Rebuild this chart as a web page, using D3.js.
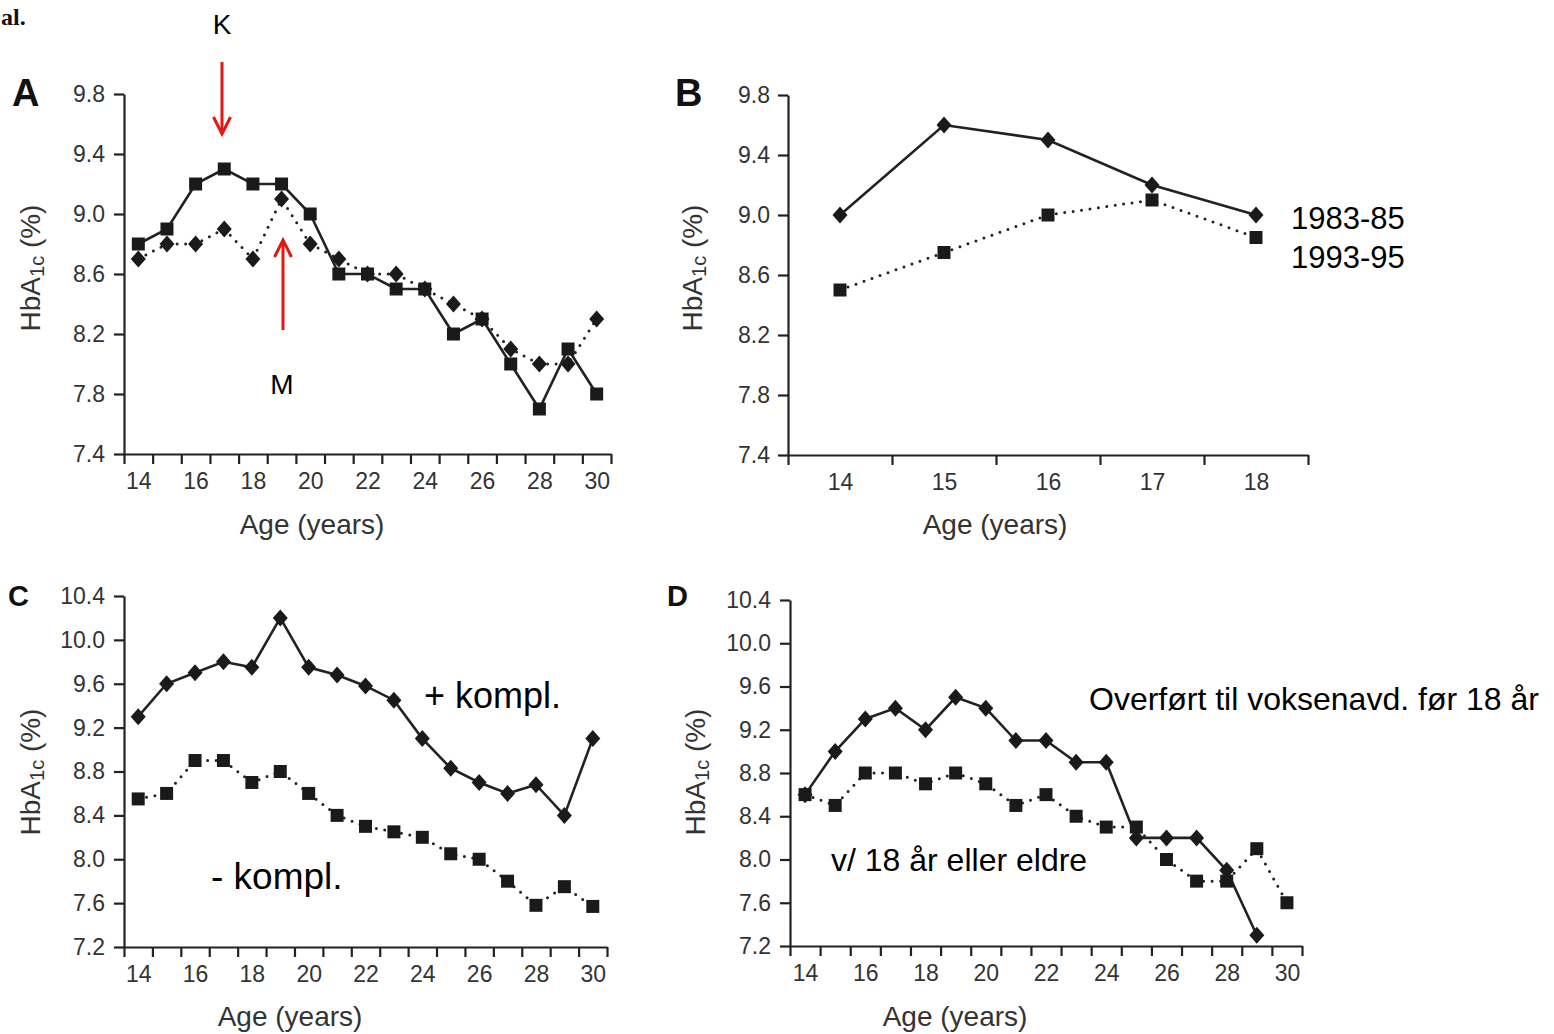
<!DOCTYPE html>
<html><head><meta charset="utf-8">
<script src="https://cdn.jsdelivr.net/npm/d3@7"></script>
<style>
body{margin:0;background:#fff;}
svg{display:block;font-family:Arial,"Liberation Sans",Helvetica,sans-serif;}
</style>
</head><body><svg id="c" width="1554" height="1034"></svg>
<script>
// ---------- DATA ----------
const agesLong = [14,15,16,17,18,19,20,21,22,23,24,25,26,27,28,29,30];
const agesShort = [14,15,16,17,18];
const agesDdiamond = [14,15,16,17,18,19,20,21,22,23,24,25,26,27,28,29];

const aSquares  = [8.8,8.9,9.2,9.3,9.2,9.2,9.0,8.6,8.6,8.5,8.5,8.2,8.3,8.0,7.7,8.1,7.8];
const aDiamonds = [8.7,8.8,8.8,8.9,8.7,9.1,8.8,8.7,8.6,8.6,8.5,8.4,8.3,8.1,8.0,8.0,8.3];

const bDiamonds = [9.0,9.6,9.5,9.2,9.0];
const bSquares  = [8.5,8.75,9.0,9.1,8.85];

const cDiamonds = [9.3,9.6,9.7,9.8,9.75,10.2,9.75,9.68,9.58,9.45,9.1,8.83,8.7,8.6,8.68,8.4,9.1];
const cSquares  = [8.55,8.6,8.9,8.9,8.7,8.8,8.6,8.4,8.3,8.25,8.2,8.05,8.0,7.8,7.58,7.75,7.57];

const dDiamonds = [8.6,9.0,9.3,9.4,9.2,9.5,9.4,9.1,9.1,8.9,8.9,8.2,8.2,8.2,7.9,7.3];
const dSquares  = [8.6,8.5,8.8,8.8,8.7,8.8,8.7,8.5,8.6,8.4,8.3,8.3,8.0,7.8,7.8,8.1,7.6];

const yTicksAB = [7.4,7.8,8.2,8.6,9.0,9.4,9.8];
const yTicksCD = [7.2,7.6,8.0,8.4,8.8,9.2,9.6,10.0,10.4];
const xLabelsLong = [14,16,18,20,22,24,26,28,30];
const xLabelsShort = [14,15,16,17,18];

// ---------- DRAW ----------
const svg = d3.select("#c");
const INK = "#222";
const RED = "#e5170f";

function panel(cfg){
  const g = svg.append("g");
  const x = d3.scaleLinear().domain([cfg.ages[0]-0.5, cfg.ages[cfg.ages.length-1]+0.5]).range([cfg.x0, cfg.x1]);
  const y = d3.scaleLinear().domain([cfg.yTicks[0], cfg.yTicks[cfg.yTicks.length-1]]).range([cfg.yb, cfg.yt]);
  const bounds = cfg.ages.map(a=>a-0.5).concat([cfg.ages[cfg.ages.length-1]+0.5]);

  const xa = g.append("g").attr("transform",`translate(0,${cfg.yb})`)
    .call(d3.axisBottom(x).tickValues(bounds).tickFormat("").tickSize(10).tickSizeOuter(0));
  xa.select(".domain").attr("stroke",INK).attr("stroke-width",2.2);
  xa.selectAll(".tick line").attr("stroke",INK).attr("stroke-width",2.2);
  const xl = g.append("g").attr("transform",`translate(0,${cfg.yb})`)
    .call(d3.axisBottom(x).tickValues(cfg.xLabels).tickFormat(d3.format("d")).tickSize(0).tickPadding(cfg.xPad));
  xl.select(".domain").remove();
  xl.selectAll("text").attr("font-size",cfg.tickFs).attr("fill","#333").attr("font-family","Arial,'Liberation Sans',sans-serif");

  const ya = g.append("g").attr("transform",`translate(${cfg.x0},0)`)
    .call(d3.axisLeft(y).tickValues(cfg.yTicks).tickFormat(d3.format(".1f")).tickSize(10).tickSizeOuter(0).tickPadding(cfg.yPad));
  ya.select(".domain").attr("stroke",INK).attr("stroke-width",2.2);
  ya.selectAll(".tick line").attr("stroke",INK).attr("stroke-width",2.2);
  ya.selectAll("text").attr("font-size",cfg.tickFs).attr("fill","#333").attr("font-family","Arial,'Liberation Sans',sans-serif");

  cfg.series.forEach(s=>{
    const pts = s.ages.map((a,i)=>[x(a), y(s.values[i])]);
    g.append("path").attr("d", d3.line()(pts)).attr("fill","none").attr("stroke",INK)
      .attr("stroke-width", s.dotted?3:2.6)
      .attr("stroke-linecap", s.dotted?"round":"butt")
      .attr("stroke-dasharray", s.dotted?"0,8.5":null);
    const sym = d3.symbol(d3.symbolSquare, 169);
    pts.forEach(p=>{
      if (s.marker==="square"){
        g.append("path").attr("d", sym()).attr("transform",`translate(${p[0]},${p[1]})`).attr("fill","#1a1a1a");
      } else {
        const w=7.5,h=8.5;
        g.append("path").attr("d",`M${p[0]},${p[1]-h}L${p[0]+w},${p[1]}L${p[0]},${p[1]+h}L${p[0]-w},${p[1]}Z`).attr("fill","#1a1a1a");
      }
    });
  });

  const yt = g.append("text").attr("transform",`translate(${cfg.ytX},${cfg.ytY}) rotate(-90)`)
    .attr("text-anchor","middle").attr("dominant-baseline","central").attr("font-size",28).attr("fill","#333");
  yt.append("tspan").text("HbA");
  yt.append("tspan").text("1c").attr("font-size",20).attr("dy",7);
  yt.append("tspan").text(" (%)").attr("dy",-7);
  g.append("text").attr("x",cfg.xtX).attr("y",cfg.xtY).attr("text-anchor","middle").attr("dominant-baseline","central")
    .attr("font-size",28).attr("fill","#333").text("Age (years)");

  g.append("text").attr("x",cfg.letter[1]).attr("y",cfg.letter[2]).attr("dominant-baseline","central")
    .attr("font-size",cfg.letter[3]).attr("font-weight","bold").attr("fill","#111").text(cfg.letter[0]);
  return g;
}

panel({ages:agesLong, x0:124, x1:611, yb:454, yt:94, yTicks:yTicksAB, xLabels:xLabelsLong,
  tickFs:23, xPad:19, yPad:9, ytX:30, ytY:268, xtX:312, xtY:524, letter:["A",12,93,38],
  series:[{ages:agesLong, values:aDiamonds, marker:"diamond", dotted:true},
          {ages:agesLong, values:aSquares, marker:"square", dotted:false}]});

panel({ages:agesShort, x0:788, x1:1308, yb:455, yt:95, yTicks:yTicksAB, xLabels:xLabelsShort,
  tickFs:23, xPad:19, yPad:8, ytX:692, ytY:268, xtX:995, xtY:524, letter:["B",675,93,38],
  series:[{ages:agesShort, values:bSquares, marker:"square", dotted:true},
          {ages:agesShort, values:bDiamonds, marker:"diamond", dotted:false}]});

panel({ages:agesLong, x0:124, x1:607, yb:947, yt:596, yTicks:yTicksCD, xLabels:xLabelsLong,
  tickFs:23, xPad:19, yPad:9, ytX:30, ytY:772, xtX:290, xtY:1016, letter:["C",8,596,29],
  series:[{ages:agesLong, values:cSquares, marker:"square", dotted:true},
          {ages:agesLong, values:cDiamonds, marker:"diamond", dotted:false}]});

panel({ages:agesLong, x0:790, x1:1302, yb:946, yt:600, yTicks:yTicksCD, xLabels:xLabelsLong,
  tickFs:23, xPad:19, yPad:9, ytX:695, ytY:772, xtX:955, xtY:1016, letter:["D",667,596,29],
  series:[{ages:agesDdiamond, values:dDiamonds, marker:"diamond", dotted:false},
          {ages:agesLong, values:dSquares, marker:"square", dotted:true}]});

// ---------- ANNOTATIONS ----------
svg.append("text").attr("x",1).attr("y",25).attr("font-family","'Liberation Serif','DejaVu Serif',serif")
  .attr("font-weight","bold").attr("font-size",24).attr("fill","#111").text("al.");

function label(txt,x,y,fs,anchor){
  svg.append("text").attr("x",x).attr("y",y).attr("dominant-baseline","central")
    .attr("text-anchor",anchor||"start").attr("font-size",fs).attr("fill","#000").text(txt);
}
label("K",222,24,28,"middle");
label("M",282,384,28,"middle");
label("1983-85",1291,218,31);
label("1993-95",1291,257,31);
label("+ kompl.",424,695,36);
label("- kompl.",211,876,37);
label("Overført til voksenavd. før 18 år",1089,699,32);
label("v/ 18 år eller eldre",831,860,32);

function arrow(x,y1,y2){
  const dir = y2>y1 ? 1 : -1;
  svg.append("line").attr("x1",x).attr("x2",x).attr("y1",y1).attr("y2",y2-dir*1)
    .attr("stroke",RED).attr("stroke-width",3);
  svg.append("path").attr("d",`M${x-8.5},${y2-dir*17}L${x},${y2}L${x+8.5},${y2-dir*17}`)
    .attr("fill","none").attr("stroke",RED).attr("stroke-width",3);
}
arrow(222,62,134);
arrow(283,330,240);
</script></body></html>
